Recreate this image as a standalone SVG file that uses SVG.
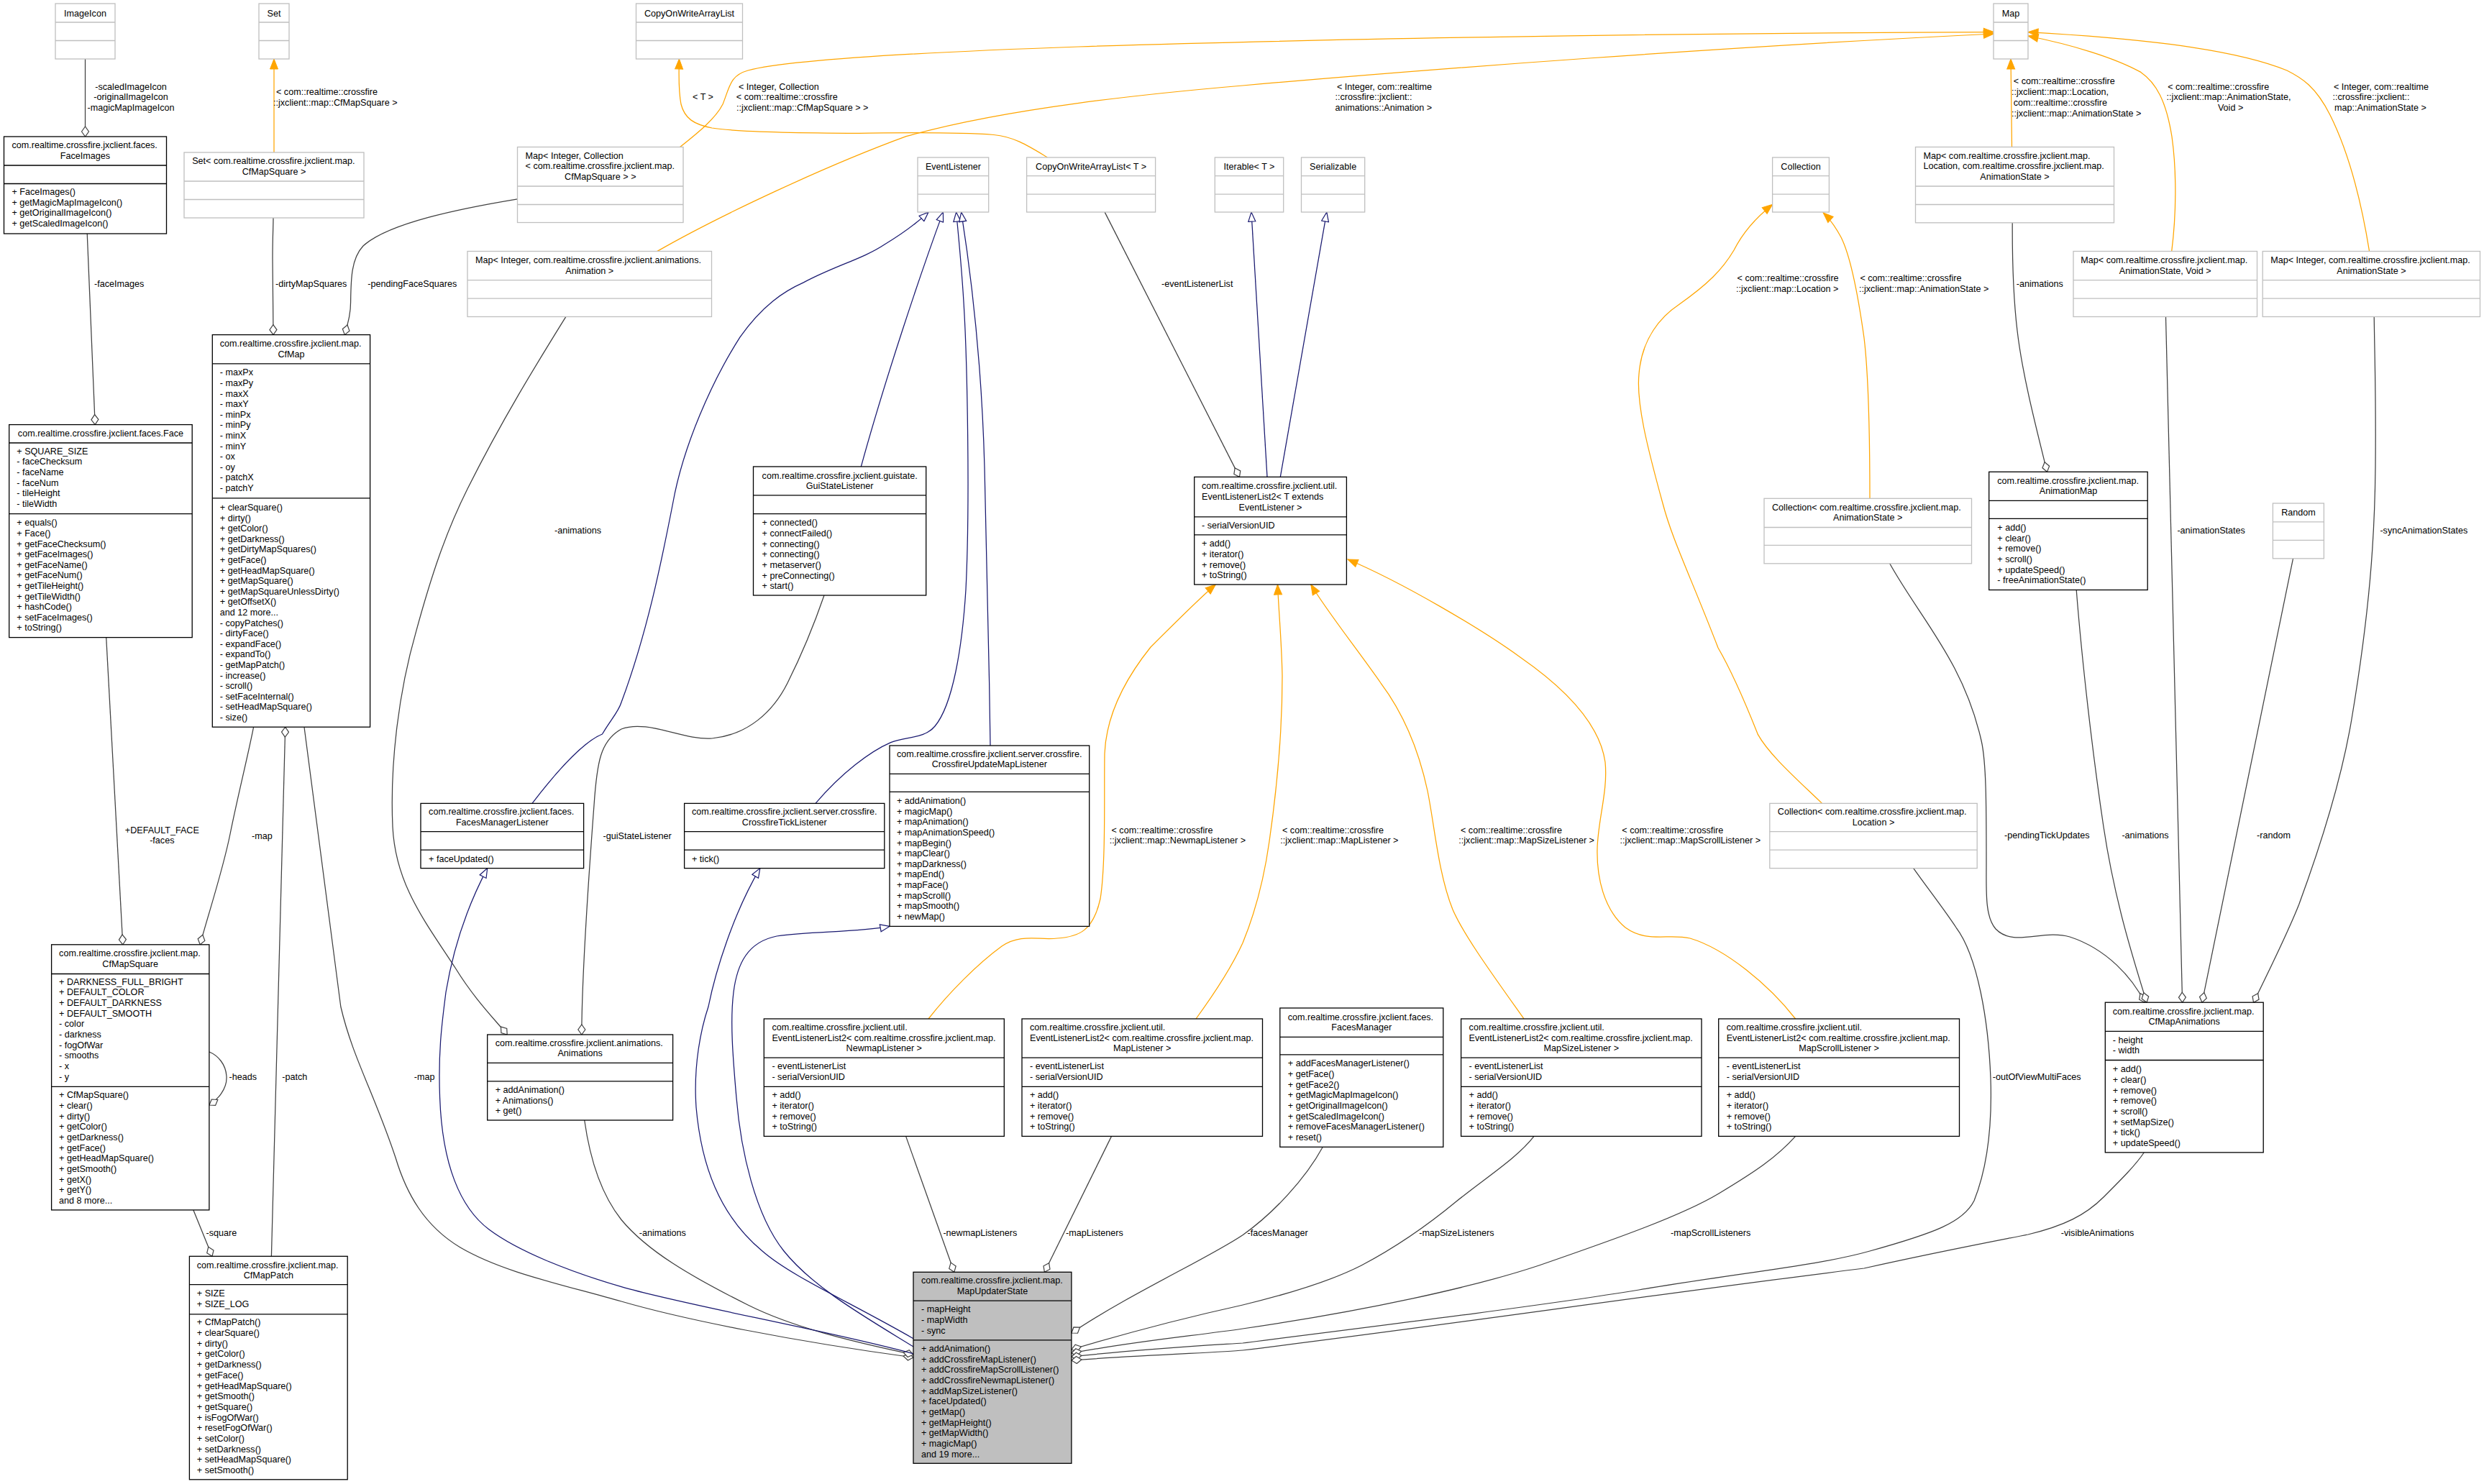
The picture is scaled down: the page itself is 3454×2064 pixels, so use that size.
<svg xmlns="http://www.w3.org/2000/svg" width="3454" height="2064" viewBox="0 0 3454 2064">
<style>
text{font-family:"Liberation Sans",Arial,Helvetica,sans-serif;font-size:12.6px;fill:#000}
.c{text-anchor:middle}
rect,line{stroke-width:1.3}
.ext rect{fill:#fff;stroke:#bfbfbf}
.ext line{stroke:#bfbfbf}
.cls rect{fill:#fff;stroke:#000}
.cls line{stroke:#000}
.cur rect{fill:#bfbfbf;stroke:#000}
.cur line{stroke:#000}
.a{fill:none;stroke:#404040;stroke-width:1.25;marker-start:url(#dia)}
.i{fill:none;stroke:#191970;stroke-width:1.25;marker-end:url(#tri)}
.o{fill:none;stroke:#ffa500;stroke-width:1.25;marker-end:url(#oar)}
</style>
<defs>
<marker id="dia" markerUnits="userSpaceOnUse" viewBox="-1 -6 16 12" markerWidth="16" markerHeight="12" refX="0" refY="0" orient="auto"><path d="M0,0 L7,-5 L14,0 L7,5 Z" fill="#fff" stroke="#404040" stroke-width="1.2"/></marker>
<marker id="tri" markerUnits="userSpaceOnUse" viewBox="-1 -6 15 12" markerWidth="15" markerHeight="12" refX="13" refY="0" orient="auto"><path d="M0,-5 L13,0 L0,5 Z" fill="#fff" stroke="#191970" stroke-width="1.2"/></marker>
<marker id="oar" markerUnits="userSpaceOnUse" viewBox="-1 -7 16 14" markerWidth="16" markerHeight="14" refX="14" refY="0" orient="auto"><path d="M0,-5.5 L14,0 L0,5.5 Z" fill="#ffa500" stroke="#ffa500"/></marker>
</defs>
<rect x="0" y="0" width="3454" height="2064" fill="#fff" stroke="none"/>
<g id="connectors">
<path class="a" d="M118.5,190 L118.5,82"/>
<path class="a" d="M132.2,590.6 L121.2,324.6"/>
<path class="a" d="M380,465.6 C379.5,420 379,380 379,360 C379,330 380,315 380,302.7"/>
<path class="a" d="M479.3,465.6 C485,445 487.6,435 487.6,420 C488,390 488,360 505,342 C540,310 640,290 719.6,276.8"/>
<path class="a" d="M705.2,1439 C690,1420 660,1390 633.6,1347 C590,1280 550,1230 546,1150 C542,1060 555,960 578.5,878.6 C600,800 620,740 650,680 C700,580 750,500 786.8,440.6"/>
<path class="a" d="M808.8,1439 C809,1350 820,1200 826,1120 C830,1060 835,1030 864,1014 C900,1000 950,1030 990,1027 C1040,1022 1075,990 1095,950 C1120,900 1135,860 1146,828"/>
<path class="a" d="M278.2,1313.8 C290,1270 310,1210 320,1160 C330,1110 345,1050 352.6,1011.2"/>
<path class="a" d="M170.8,1313.8 L147.7,886.6"/>
<path class="a" d="M396.7,1011.2 L377.4,1747.3"/>
<path class="a" d="M295,1747.3 L268.9,1683"/>
<path class="a" d="M291,1537 C302,1530 316,1515 315,1497 C314,1480 303,1468 291,1463"/>
<path class="a" d="M1270,1888 C1100,1865 950,1835 864,1810 C780,1786 700,1770 640,1735 C590,1705 565,1660 550,1610 C520,1520 490,1470 473.8,1400 L423,1011.2"/>
<path class="a" d="M1270,1884 C1180,1865 1100,1845 1040,1815 C960,1775 900,1740 864,1696.5 C835,1660 820,1610 812.7,1558"/>
<path class="a" d="M1723.5,663.4 L1536.2,295.1"/>
<path class="a" d="M1326.8,1769.3 L1259.6,1580.4"/>
<path class="a" d="M1452.4,1769.3 L1545.5,1580.4"/>
<path class="a" d="M1489.9,1854 C1570,1800 1680,1750 1728,1717.7 C1770,1688 1815,1640 1839.3,1595.3"/>
<path class="a" d="M1489.9,1877 C1580,1850 1660,1830 1728,1815 C1790,1800 1850,1782 1893,1760 C1950,1730 1990,1700 2025,1671 C2070,1635 2110,1610 2133,1580.4"/>
<path class="a" d="M1489.9,1882 C1580,1865 1660,1858 1728,1848 C1900,1823 2050,1790 2140,1760 C2250,1722 2340,1690 2390,1660 C2440,1630 2470,1610 2496.6,1580.4"/>
<path class="a" d="M1489.9,1887 C1600,1875 1700,1870 1728,1868 C1950,1840 2150,1815 2279,1794 C2420,1770 2530,1760 2600,1740 C2690,1715 2730,1700 2745,1670 C2765,1620 2770,1560 2768,1500 C2765,1420 2750,1330 2720,1290 C2700,1260 2680,1235 2660.7,1207.6"/>
<path class="a" d="M1489.9,1892 C1600,1884 1700,1881 1728,1878 C2000,1845 2300,1800 2592,1764 C2700,1740 2780,1725 2820,1717 C2870,1705 2900,1690 2925,1665 C2950,1640 2970,1620 2981.2,1603"/>
<path class="a" d="M2846.5,656.3 C2830,590 2812,520 2805,460 C2799,410 2798,360 2798.2,309.8"/>
<path class="a" d="M2982.3,1394.2 C2965,1360 2930,1320 2878,1303 C2840,1292 2800,1318 2775,1292 C2760,1275 2762,1240 2762,1200 C2762,1120 2762,1060 2755,1030 C2730,920 2670,860 2627.7,783.8"/>
<path class="a" d="M2985,1394.2 C2965,1330 2940,1250 2925,1150 C2910,1050 2895,920 2887.2,820.5"/>
<path class="a" d="M3034.6,1394.2 C3025,1000 3018,700 3011.5,440.6"/>
<path class="a" d="M3062,1394.2 L3188.5,776.8"/>
<path class="a" d="M3133.5,1394.2 C3160,1340 3180,1300 3196.7,1258 C3240,1140 3260,1060 3270,1000 C3295,850 3302,750 3303,650 C3304,550 3302,500 3301.2,440.6"/>
<path class="i" d="M740,1117.4 C780,1065 815,1030 837.5,1021 C850,1000 860,990 864,976.8 C900,880 920,780 935.6,700 C950,620 990,530 1029,468.8 C1060,425 1090,405 1117.4,392.9 C1160,370 1200,360 1230,340 C1255,325 1275,310 1291,295.1"/>
<path class="i" d="M1197.3,649.1 C1230,530 1280,380 1311.4,295.1"/>
<path class="i" d="M1134,1117.4 C1170,1075 1210,1045 1238.6,1032.6 C1260,1024 1285,1028 1300,1010 C1325,980 1338,900 1343,820 C1349,700 1345,500 1340,420 C1337,370 1333,330 1329.6,295.1"/>
<path class="i" d="M1377,1037 C1375,900 1372,750 1369,650 C1365,500 1350,380 1336.7,295.1"/>
<path class="i" d="M1270,1882.8 C1150,1850 950,1815 864,1789.7 C790,1768 720,1740 680,1710 C640,1680 615,1620 611.6,1527 C609,1460 615,1420 620,1380 C630,1320 650,1260 677.7,1207.6"/>
<path class="i" d="M1270,1861.7 C1180,1810 1100,1775 1060,1740 C1000,1690 975,1620 968,1540 C964,1480 975,1430 985,1400 C995,1350 1020,1270 1056.8,1207.6"/>
<path class="i" d="M1270,1873 C1200,1830 1130,1790 1090,1740 C1050,1690 1030,1600 1024,1527 C1019,1470 1015,1420 1020,1380 C1025,1340 1040,1310 1080,1302 C1130,1295 1190,1297 1237,1288.4"/>
<path class="i" d="M1762,663.4 L1740,295.1"/>
<path class="i" d="M1780.3,663.4 L1844.8,295.1"/>
<path class="o" d="M381,212 L381,82"/>
<path class="o" d="M945.5,204.5 C970,185 995,165 1005,145 C1015,120 1015,105 1040,98 C1100,82 1300,72 1500,65 C1800,55 2300,46 2772.3,44.6"/>
<path class="o" d="M913.6,349.6 C1000,300 1150,230 1260,189.7 C1400,150 1600,130 1728,119 C2000,95 2400,65 2772.3,47"/>
<path class="o" d="M1456.3,218.8 C1430,203 1410,190 1381.9,187.5 C1320,183 1250,185 1194.6,185.3 C1100,185 1020,183 990,178 C965,173 952,165 947,145 C943,125 944,100 944.4,82"/>
<path class="o" d="M2797.5,204.5 L2796,82"/>
<path class="o" d="M3019.7,349.6 C3026,300 3027,240 3020,190 C3012,140 2998,115 2976.8,100.4 C2940,80 2880,62 2820,50"/>
<path class="o" d="M3294.6,349.6 C3285,290 3270,220 3240,160 C3220,120 3200,108 3180,98 C3100,65 2950,52 2820,44.6"/>
<path class="o" d="M2533.5,1117.4 C2500,1085 2460,1050 2444.3,1021.4 C2420,960 2400,920 2389,901 C2350,800 2325,750 2312,700 C2290,620 2275,560 2279,520 C2283,470 2310,440 2334,424 C2375,395 2395,375 2411,348 C2425,320 2445,300 2464.6,284.4"/>
<path class="o" d="M2600,693.3 C2600,600 2598,520 2592,470 C2585,420 2575,360 2560,330 C2552,315 2545,305 2535.2,296"/>
<path class="o" d="M1291,1417 C1320,1380 1360,1340 1393,1316 C1420,1298 1445,1308 1470,1305 C1500,1303 1520,1295 1530,1250 C1538,1200 1535,1100 1536,1048 C1538,1000 1560,950 1600,900 C1640,860 1670,830 1690.4,813"/>
<path class="o" d="M1663,1417 C1690,1380 1715,1340 1728,1311.6 C1745,1270 1758,1220 1765,1170 C1778,1080 1783,1000 1783,940 C1782,890 1778,850 1776.5,813"/>
<path class="o" d="M2119,1417 C2075,1355 2035,1300 2020,1265 C2000,1215 1995,1150 1985,1100 C1972,1040 1950,990 1920,950 C1885,900 1845,850 1822.8,813"/>
<path class="o" d="M2496.6,1417 C2460,1370 2400,1320 2350,1305 C2320,1298 2290,1312 2260,1290 C2230,1265 2220,1220 2221,1180 C2222,1140 2236,1100 2232,1060 C2225,1010 2180,960 2113.7,914 C2060,875 1950,810 1874,778"/>
<text class="c" x="182" y="125">-scaledImageIcon</text>
<text class="c" x="182" y="138.9">-originalImageIcon</text>
<text class="c" x="182" y="154.1">-magicMapImageIcon</text>
<text x="384" y="132.2">&lt; com::realtime::crossfire</text>
<text x="380" y="147.4">::jxclient::map::CfMapSquare &gt;</text>
<text x="131" y="399">-faceImages</text>
<text x="383" y="399">-dirtyMapSquares</text>
<text x="511.3" y="399">-pendingFaceSquares</text>
<text x="1027" y="125">&lt; Integer, Collection</text>
<text x="1023.8" y="138.9">&lt; com::realtime::crossfire</text>
<text x="1024" y="154.1">::jxclient::map::CfMapSquare &gt; &gt;</text>
<text x="963" y="138.9">&lt; T &gt;</text>
<text x="1859" y="125">&lt; Integer, com::realtime</text>
<text x="1856.4" y="138.9">::crossfire::jxclient::</text>
<text x="1856.4" y="154.1">animations::Animation &gt;</text>
<text x="1615" y="399">-eventListenerList</text>
<text x="2415.6" y="391">&lt; com::realtime::crossfire</text>
<text x="2414" y="406.3">::jxclient::map::Location &gt;</text>
<text x="2586.4" y="391">&lt; com::realtime::crossfire</text>
<text x="2585" y="406.3">::jxclient::map::AnimationState &gt;</text>
<text x="2799.8" y="117">&lt; com::realtime::crossfire</text>
<text x="2797" y="132.2">::jxclient::map::Location,</text>
<text x="2799.8" y="147.4">com::realtime::crossfire</text>
<text x="2797" y="161.6">::jxclient::map::AnimationState &gt;</text>
<text x="2803.7" y="399">-animations</text>
<text x="3014.2" y="125">&lt; com::realtime::crossfire</text>
<text x="3012.6" y="138.9">::jxclient::map::AnimationState,</text>
<text class="c" x="3101.6" y="154.1">Void &gt;</text>
<text x="3245" y="125">&lt; Integer, com::realtime</text>
<text x="3243.5" y="138.9">::crossfire::jxclient::</text>
<text x="3246" y="154.1">map::AnimationState &gt;</text>
<text x="771" y="742">-animations</text>
<text x="3027.4" y="742">-animationStates</text>
<text x="3309.4" y="742">-syncAnimationStates</text>
<text class="c" x="225.3" y="1159">+DEFAULT_FACE</text>
<text class="c" x="225.3" y="1173.3">-faces</text>
<text x="350" y="1166.5">-map</text>
<text x="838.6" y="1167">-guiStateListener</text>
<text x="1545.5" y="1159">&lt; com::realtime::crossfire</text>
<text x="1542.8" y="1173.3">::jxclient::map::NewmapListener &gt;</text>
<text x="1783" y="1159">&lt; com::realtime::crossfire</text>
<text x="1780.3" y="1173.3">::jxclient::map::MapListener &gt;</text>
<text x="2031" y="1159">&lt; com::realtime::crossfire</text>
<text x="2028.3" y="1173.3">::jxclient::map::MapSizeListener &gt;</text>
<text x="2255.3" y="1159">&lt; com::realtime::crossfire</text>
<text x="2252.5" y="1173.3">::jxclient::map::MapScrollListener &gt;</text>
<text x="2787" y="1166">-pendingTickUpdates</text>
<text x="2950.4" y="1166">-animations</text>
<text x="3138" y="1166">-random</text>
<text x="318.5" y="1502.3">-heads</text>
<text x="392.3" y="1502.3">-patch</text>
<text x="575.8" y="1502.3">-map</text>
<text x="2770.7" y="1502.3">-outOfViewMultiFaces</text>
<text x="286.5" y="1719">-square</text>
<text x="888.8" y="1719">-animations</text>
<text x="1311.4" y="1719">-newmapListeners</text>
<text x="1482" y="1719">-mapListeners</text>
<text x="1734.6" y="1719">-facesManager</text>
<text x="1973.2" y="1719">-mapSizeListeners</text>
<text x="2323" y="1719">-mapScrollListeners</text>
<text x="2865.8" y="1719">-visibleAnimations</text>
</g>
<g id="ImageIcon" class="ext"><rect x="77" y="5" width="83" height="77"/><line x1="77" y1="31" x2="160" y2="31"/><line x1="77" y1="56.5" x2="160" y2="56.5"/><text class="c" x="118.5" y="22.5">ImageIcon</text></g>
<g id="Set" class="ext"><rect x="360" y="5" width="42" height="77"/><line x1="360" y1="31" x2="402" y2="31"/><line x1="360" y1="56.5" x2="402" y2="56.5"/><text class="c" x="381" y="22.5">Set</text></g>
<g id="CopyOnWriteArrayList" class="ext"><rect x="884.5" y="5" width="148" height="77"/><line x1="884.5" y1="31" x2="1032.5" y2="31"/><line x1="884.5" y1="56.5" x2="1032.5" y2="56.5"/><text class="c" x="958.5" y="22.5">CopyOnWriteArrayList</text></g>
<g id="Map" class="ext"><rect x="2772" y="5" width="48" height="77"/><line x1="2772" y1="31" x2="2820" y2="31"/><line x1="2772" y1="56.5" x2="2820" y2="56.5"/><text class="c" x="2796" y="22.5">Map</text></g>
<g id="EventListener" class="ext"><rect x="1276" y="219" width="98.7" height="76"/><line x1="1276" y1="244.6" x2="1374.7" y2="244.6"/><line x1="1276" y1="270.1" x2="1374.7" y2="270.1"/><text class="c" x="1325.4" y="235.5">EventListener</text></g>
<g id="CopyOnWriteArrayListT" class="ext"><rect x="1427.6" y="219" width="179" height="76"/><line x1="1427.6" y1="244.6" x2="1606.6" y2="244.6"/><line x1="1427.6" y1="270.1" x2="1606.6" y2="270.1"/><text class="c" x="1517.1" y="235.5">CopyOnWriteArrayList&lt; T &gt;</text></g>
<g id="IterableT" class="ext"><rect x="1689.3" y="219" width="95.4" height="76"/><line x1="1689.3" y1="244.6" x2="1784.7" y2="244.6"/><line x1="1689.3" y1="270.1" x2="1784.7" y2="270.1"/><text class="c" x="1737" y="235.5">Iterable&lt; T &gt;</text></g>
<g id="Serializable" class="ext"><rect x="1809.5" y="219" width="88.2" height="76"/><line x1="1809.5" y1="244.6" x2="1897.7" y2="244.6"/><line x1="1809.5" y1="270.1" x2="1897.7" y2="270.1"/><text class="c" x="1853.6" y="235.5">Serializable</text></g>
<g id="Collection" class="ext"><rect x="2464.6" y="219" width="78.8" height="76"/><line x1="2464.6" y1="244.6" x2="2543.4" y2="244.6"/><line x1="2464.6" y1="270.1" x2="2543.4" y2="270.1"/><text class="c" x="2504" y="235.5">Collection</text></g>
<g id="Random" class="ext"><rect x="3160.4" y="700" width="71" height="76.8"/><line x1="3160.4" y1="725.9" x2="3231.4" y2="725.9"/><line x1="3160.4" y1="751.3" x2="3231.4" y2="751.3"/><text class="c" x="3196" y="717">Random</text></g>
<g id="FaceImages" class="cls"><rect x="5.5" y="190" width="226" height="135"/><line x1="5.5" y1="230" x2="231.5" y2="230"/><line x1="5.5" y1="255.5" x2="231.5" y2="255.5"/><text x="16.5" y="206.3">com.realtime.crossfire.jxclient.faces.</text><text class="c" x="118.5" y="221">FaceImages</text><text x="16.5" y="271">+ FaceImages()<tspan x="16.5" dy="14.65">+ getMagicMapImageIcon()</tspan><tspan x="16.5" dy="14.65">+ getOriginalImageIcon()</tspan><tspan x="16.5" dy="14.65">+ getScaledImageIcon()</tspan></text></g>
<g id="SetCfMapSquare" class="ext"><rect x="256" y="212" width="250" height="91"/><line x1="256" y1="252" x2="506" y2="252"/><line x1="256" y1="277.5" x2="506" y2="277.5"/><text x="267.2" y="227.7">Set&lt; com.realtime.crossfire.jxclient.map.</text><text class="c" x="381" y="242.9">CfMapSquare &gt;</text></g>
<g id="MapIntegerCollection" class="ext"><rect x="719.5" y="204.5" width="230.5" height="105"/><line x1="719.5" y1="259" x2="950" y2="259"/><line x1="719.5" y1="284.5" x2="950" y2="284.5"/><text x="730.6" y="221">Map&lt; Integer, Collection</text><text x="730.6" y="235.3">&lt; com.realtime.crossfire.jxclient.map.</text><text class="c" x="834.8" y="249.5">CfMapSquare &gt; &gt;</text></g>
<g id="MapIntegerAnimation" class="ext"><rect x="650" y="349.5" width="339.5" height="91"/><line x1="650" y1="389.7" x2="989.5" y2="389.7"/><line x1="650" y1="415.2" x2="989.5" y2="415.2"/><text x="661" y="366">Map&lt; Integer, com.realtime.crossfire.jxclient.animations.</text><text class="c" x="819.8" y="380.8">Animation &gt;</text></g>
<g id="CfMap" class="cls"><rect x="295.3" y="465.6" width="219.3" height="545.6"/><line x1="295.3" y1="505.8" x2="514.6" y2="505.8"/><line x1="295.3" y1="692.9" x2="514.6" y2="692.9"/><text x="305.8" y="482.2">com.realtime.crossfire.jxclient.map.</text><text class="c" x="405" y="496.9">CfMap</text>
<text x="305.8" y="522.4">- maxPx<tspan x="305.8" dy="14.6">- maxPy</tspan><tspan x="305.8" dy="14.6">- maxX</tspan><tspan x="305.8" dy="14.6">- maxY</tspan><tspan x="305.8" dy="14.6">- minPx</tspan><tspan x="305.8" dy="14.6">- minPy</tspan><tspan x="305.8" dy="14.6">- minX</tspan><tspan x="305.8" dy="14.6">- minY</tspan><tspan x="305.8" dy="14.6">- ox</tspan><tspan x="305.8" dy="14.6">- oy</tspan><tspan x="305.8" dy="14.6">- patchX</tspan><tspan x="305.8" dy="14.6">- patchY</tspan></text>
<text x="305.8" y="709.9">+ clearSquare()<tspan x="305.8" dy="14.6">+ dirty()</tspan><tspan x="305.8" dy="14.6">+ getColor()</tspan><tspan x="305.8" dy="14.6">+ getDarkness()</tspan><tspan x="305.8" dy="14.6">+ getDirtyMapSquares()</tspan><tspan x="305.8" dy="14.6">+ getFace()</tspan><tspan x="305.8" dy="14.6">+ getHeadMapSquare()</tspan><tspan x="305.8" dy="14.6">+ getMapSquare()</tspan><tspan x="305.8" dy="14.6">+ getMapSquareUnlessDirty()</tspan><tspan x="305.8" dy="14.6">+ getOffsetX()</tspan><tspan x="305.8" dy="14.6">and 12 more...</tspan><tspan x="305.8" dy="14.6">- copyPatches()</tspan><tspan x="305.8" dy="14.6">- dirtyFace()</tspan><tspan x="305.8" dy="14.6">- expandFace()</tspan><tspan x="305.8" dy="14.6">- expandTo()</tspan><tspan x="305.8" dy="14.6">- getMapPatch()</tspan><tspan x="305.8" dy="14.6">- increase()</tspan><tspan x="305.8" dy="14.6">- scroll()</tspan><tspan x="305.8" dy="14.6">- setFaceInternal()</tspan><tspan x="305.8" dy="14.6">- setHeadMapSquare()</tspan><tspan x="305.8" dy="14.6">- size()</tspan></text></g>
<g id="Face" class="cls"><rect x="12.7" y="590.6" width="254.5" height="296"/><line x1="12.7" y1="616" x2="267.2" y2="616"/><line x1="12.7" y1="714.7" x2="267.2" y2="714.7"/><text class="c" x="140" y="607.2">com.realtime.crossfire.jxclient.faces.Face</text>
<text x="23.3" y="631.7">+ SQUARE_SIZE<tspan x="23.3" dy="14.6">- faceChecksum</tspan><tspan x="23.3" dy="14.6">- faceName</tspan><tspan x="23.3" dy="14.6">- faceNum</tspan><tspan x="23.3" dy="14.6">- tileHeight</tspan><tspan x="23.3" dy="14.6">- tileWidth</tspan></text>
<text x="23.3" y="731.3">+ equals()<tspan x="23.3" dy="14.6">+ Face()</tspan><tspan x="23.3" dy="14.6">+ getFaceChecksum()</tspan><tspan x="23.3" dy="14.6">+ getFaceImages()</tspan><tspan x="23.3" dy="14.6">+ getFaceName()</tspan><tspan x="23.3" dy="14.6">+ getFaceNum()</tspan><tspan x="23.3" dy="14.6">+ getTileHeight()</tspan><tspan x="23.3" dy="14.6">+ getTileWidth()</tspan><tspan x="23.3" dy="14.6">+ hashCode()</tspan><tspan x="23.3" dy="14.6">+ setFaceImages()</tspan><tspan x="23.3" dy="14.6">+ toString()</tspan></text></g>
<g id="GuiStateListener" class="cls"><rect x="1047.5" y="649" width="240.2" height="179"/><line x1="1047.5" y1="688.8" x2="1287.7" y2="688.8"/><line x1="1047.5" y1="714.7" x2="1287.7" y2="714.7"/><text x="1059.6" y="665.7">com.realtime.crossfire.jxclient.guistate.</text><text class="c" x="1167.6" y="680">GuiStateListener</text>
<text x="1059.6" y="731.3">+ connected()<tspan x="1059.6" dy="14.65">+ connectFailed()</tspan><tspan x="1059.6" dy="14.65">+ connecting()</tspan><tspan x="1059.6" dy="14.65">+ connecting()</tspan><tspan x="1059.6" dy="14.65">+ metaserver()</tspan><tspan x="1059.6" dy="14.65">+ preConnecting()</tspan><tspan x="1059.6" dy="14.65">+ start()</tspan></text></g>
<g id="EventListenerList2T" class="cls"><rect x="1660.7" y="663.4" width="211.7" height="149.6"/><line x1="1660.7" y1="718.8" x2="1872.4" y2="718.8"/><line x1="1660.7" y1="743.8" x2="1872.4" y2="743.8"/><text x="1671" y="680">com.realtime.crossfire.jxclient.util.</text><text x="1671" y="695">EventListenerList2&lt; T extends</text><text class="c" x="1766.5" y="709.9">EventListener &gt;</text><text x="1671" y="735">- serialVersionUID</text>
<text x="1671" y="760.3">+ add()<tspan x="1671" dy="14.65">+ iterator()</tspan><tspan x="1671" dy="14.65">+ remove()</tspan><tspan x="1671" dy="14.65">+ toString()</tspan></text></g>
<g id="MapLocationAnimationState" class="ext"><rect x="2663.5" y="204.5" width="276" height="105.3"/><line x1="2663.5" y1="259" x2="2939.5" y2="259"/><line x1="2663.5" y1="284.5" x2="2939.5" y2="284.5"/><text x="2674.5" y="221">Map&lt; com.realtime.crossfire.jxclient.map.</text><text x="2674.5" y="235.3">Location, com.realtime.crossfire.jxclient.map.</text><text class="c" x="2801.5" y="249.5">AnimationState &gt;</text></g>
<g id="MapAnimationStateVoid" class="ext"><rect x="2883" y="349.5" width="255.5" height="91"/><line x1="2883" y1="389.7" x2="3138.5" y2="389.7"/><line x1="2883" y1="415.2" x2="3138.5" y2="415.2"/><text x="2893.3" y="366">Map&lt; com.realtime.crossfire.jxclient.map.</text><text class="c" x="3010.7" y="380.8">AnimationState, Void &gt;</text></g>
<g id="MapIntegerAnimationState" class="ext"><rect x="3146.2" y="349.5" width="302.3" height="91"/><line x1="3146.2" y1="389.7" x2="3448.5" y2="389.7"/><line x1="3146.2" y1="415.2" x2="3448.5" y2="415.2"/><text x="3157.2" y="366">Map&lt; Integer, com.realtime.crossfire.jxclient.map.</text><text class="c" x="3297.4" y="380.8">AnimationState &gt;</text></g>
<g id="AnimationMap" class="cls"><rect x="2765.7" y="656.3" width="220.5" height="164.2"/><line x1="2765.7" y1="696.4" x2="2986.2" y2="696.4"/><line x1="2765.7" y1="721.4" x2="2986.2" y2="721.4"/><text x="2777.3" y="672.8">com.realtime.crossfire.jxclient.map.</text><text class="c" x="2876" y="687.1">AnimationMap</text>
<text x="2777.3" y="738">+ add()<tspan x="2777.3" dy="14.65">+ clear()</tspan><tspan x="2777.3" dy="14.65">+ remove()</tspan><tspan x="2777.3" dy="14.65">+ scroll()</tspan><tspan x="2777.3" dy="14.65">+ updateSpeed()</tspan><tspan x="2777.3" dy="14.65">- freeAnimationState()</tspan></text></g>
<g id="CollectionAnimationState" class="ext"><rect x="2453" y="693.3" width="288.5" height="90.5"/><line x1="2453" y1="733.5" x2="2741.5" y2="733.5"/><line x1="2453" y1="758.3" x2="2741.5" y2="758.3"/><text x="2464" y="709.9">Collection&lt; com.realtime.crossfire.jxclient.map.</text><text class="c" x="2597.2" y="724.1">AnimationState &gt;</text></g>
<g id="FacesManagerListener" class="cls"><rect x="585" y="1117.4" width="226.6" height="90.2"/><line x1="585" y1="1156.7" x2="811.6" y2="1156.7"/><line x1="585" y1="1182.1" x2="811.6" y2="1182.1"/><text x="596.1" y="1133.1">com.realtime.crossfire.jxclient.faces.</text><text class="c" x="698.3" y="1147.8">FacesManagerListener</text><text x="596.1" y="1198.7">+ faceUpdated()</text></g>
<g id="CrossfireTickListener" class="cls"><rect x="951.6" y="1117.4" width="278.2" height="90.2"/><line x1="951.6" y1="1156.7" x2="1229.8" y2="1156.7"/><line x1="951.6" y1="1182.1" x2="1229.8" y2="1182.1"/><text x="962" y="1133.1">com.realtime.crossfire.jxclient.server.crossfire.</text><text class="c" x="1090.7" y="1147.8">CrossfireTickListener</text><text x="962" y="1198.7">+ tick()</text></g>
<g id="CrossfireUpdateMapListener" class="cls"><rect x="1237" y="1037" width="277.7" height="251.4"/><line x1="1237" y1="1076.3" x2="1514.7" y2="1076.3"/><line x1="1237" y1="1101.3" x2="1514.7" y2="1101.3"/><text x="1247" y="1052.7">com.realtime.crossfire.jxclient.server.crossfire.</text><text class="c" x="1375.8" y="1067">CrossfireUpdateMapListener</text>
<text x="1247" y="1117.9">+ addAnimation()<tspan x="1247" dy="14.65">+ magicMap()</tspan><tspan x="1247" dy="14.65">+ mapAnimation()</tspan><tspan x="1247" dy="14.65">+ mapAnimationSpeed()</tspan><tspan x="1247" dy="14.65">+ mapBegin()</tspan><tspan x="1247" dy="14.65">+ mapClear()</tspan><tspan x="1247" dy="14.65">+ mapDarkness()</tspan><tspan x="1247" dy="14.65">+ mapEnd()</tspan><tspan x="1247" dy="14.65">+ mapFace()</tspan><tspan x="1247" dy="14.65">+ mapScroll()</tspan><tspan x="1247" dy="14.65">+ mapSmooth()</tspan><tspan x="1247" dy="14.65">+ newMap()</tspan></text></g>
<g id="CollectionLocation" class="ext"><rect x="2460.8" y="1117.4" width="288.4" height="90.2"/><line x1="2460.8" y1="1156.7" x2="2749.2" y2="1156.7"/><line x1="2460.8" y1="1182.1" x2="2749.2" y2="1182.1"/><text x="2471.8" y="1133.1">Collection&lt; com.realtime.crossfire.jxclient.map.</text><text class="c" x="2605" y="1147.8">Location &gt;</text></g>
<g id="Animations" class="cls"><rect x="677.7" y="1439" width="257.9" height="119"/><line x1="677.7" y1="1478.4" x2="935.6" y2="1478.4"/><line x1="677.7" y1="1503.8" x2="935.6" y2="1503.8"/><text x="688.7" y="1455.3">com.realtime.crossfire.jxclient.animations.</text><text class="c" x="806.6" y="1469">Animations</text>
<text x="688.7" y="1520.1">+ addAnimation()<tspan x="688.7" dy="14.65">+ Animations()</tspan><tspan x="688.7" dy="14.65">+ get()</tspan></text></g>
<g id="EventListenerList2Newmap" class="cls"><rect x="1062.3" y="1417" width="334" height="163.4"/><line x1="1062.3" y1="1471.2" x2="1396.3" y2="1471.2"/><line x1="1062.3" y1="1511.4" x2="1396.3" y2="1511.4"/><text x="1073.4" y="1433.3">com.realtime.crossfire.jxclient.util.</text><text x="1073.4" y="1447.5">EventListenerList2&lt; com.realtime.crossfire.jxclient.map.</text><text class="c" x="1229.3" y="1461.7">NewmapListener &gt;</text>
<text x="1073.4" y="1487.1">- eventListenerList<tspan x="1073.4" dy="14.8">- serialVersionUID</tspan></text>
<text x="1073.4" y="1527.3">+ add()<tspan x="1073.4" dy="14.65">+ iterator()</tspan><tspan x="1073.4" dy="14.65">+ remove()</tspan><tspan x="1073.4" dy="14.65">+ toString()</tspan></text></g>
<g id="EventListenerList2Map" class="cls"><rect x="1421" y="1417" width="334.5" height="163.4"/><line x1="1421" y1="1471.2" x2="1755.5" y2="1471.2"/><line x1="1421" y1="1511.4" x2="1755.5" y2="1511.4"/><text x="1432" y="1433.3">com.realtime.crossfire.jxclient.util.</text><text x="1432" y="1447.5">EventListenerList2&lt; com.realtime.crossfire.jxclient.map.</text><text class="c" x="1588.2" y="1461.7">MapListener &gt;</text>
<text x="1432" y="1487.1">- eventListenerList<tspan x="1432" dy="14.8">- serialVersionUID</tspan></text>
<text x="1432" y="1527.3">+ add()<tspan x="1432" dy="14.65">+ iterator()</tspan><tspan x="1432" dy="14.65">+ remove()</tspan><tspan x="1432" dy="14.65">+ toString()</tspan></text></g>
<g id="FacesManager" class="cls"><rect x="1779.8" y="1402" width="227" height="193.3"/><line x1="1779.8" y1="1442.4" x2="2006.8" y2="1442.4"/><line x1="1779.8" y1="1466.9" x2="2006.8" y2="1466.9"/><text x="1790.8" y="1418.5">com.realtime.crossfire.jxclient.faces.</text><text class="c" x="1893.3" y="1432.9">FacesManager</text>
<text x="1790.8" y="1483.3">+ addFacesManagerListener()<tspan x="1790.8" dy="14.65">+ getFace()</tspan><tspan x="1790.8" dy="14.65">+ getFace2()</tspan><tspan x="1790.8" dy="14.65">+ getMagicMapImageIcon()</tspan><tspan x="1790.8" dy="14.65">+ getOriginalImageIcon()</tspan><tspan x="1790.8" dy="14.65">+ getScaledImageIcon()</tspan><tspan x="1790.8" dy="14.65">+ removeFacesManagerListener()</tspan><tspan x="1790.8" dy="14.65">+ reset()</tspan></text></g>
<g id="EventListenerList2MapSize" class="cls"><rect x="2031.6" y="1417" width="334.4" height="163.4"/><line x1="2031.6" y1="1471.2" x2="2366" y2="1471.2"/><line x1="2031.6" y1="1511.4" x2="2366" y2="1511.4"/><text x="2042.6" y="1433.3">com.realtime.crossfire.jxclient.util.</text><text x="2042.6" y="1447.5">EventListenerList2&lt; com.realtime.crossfire.jxclient.map.</text><text class="c" x="2198.8" y="1461.7">MapSizeListener &gt;</text>
<text x="2042.6" y="1487.1">- eventListenerList<tspan x="2042.6" dy="14.8">- serialVersionUID</tspan></text>
<text x="2042.6" y="1527.3">+ add()<tspan x="2042.6" dy="14.65">+ iterator()</tspan><tspan x="2042.6" dy="14.65">+ remove()</tspan><tspan x="2042.6" dy="14.65">+ toString()</tspan></text></g>
<g id="EventListenerList2MapScroll" class="cls"><rect x="2389.7" y="1417" width="334.8" height="163.4"/><line x1="2389.7" y1="1471.2" x2="2724.5" y2="1471.2"/><line x1="2389.7" y1="1511.4" x2="2724.5" y2="1511.4"/><text x="2400.7" y="1433.3">com.realtime.crossfire.jxclient.util.</text><text x="2400.7" y="1447.5">EventListenerList2&lt; com.realtime.crossfire.jxclient.map.</text><text class="c" x="2557.1" y="1461.7">MapScrollListener &gt;</text>
<text x="2400.7" y="1487.1">- eventListenerList<tspan x="2400.7" dy="14.8">- serialVersionUID</tspan></text>
<text x="2400.7" y="1527.3">+ add()<tspan x="2400.7" dy="14.65">+ iterator()</tspan><tspan x="2400.7" dy="14.65">+ remove()</tspan><tspan x="2400.7" dy="14.65">+ toString()</tspan></text></g>
<g id="CfMapSquare" class="cls"><rect x="71.6" y="1313.8" width="219.3" height="369.1"/><line x1="71.6" y1="1354.5" x2="290.9" y2="1354.5"/><line x1="71.6" y1="1511.4" x2="290.9" y2="1511.4"/><text x="82.1" y="1330.4">com.realtime.crossfire.jxclient.map.</text><text class="c" x="181.2" y="1345.1">CfMapSquare</text>
<text x="82.1" y="1369.7">+ DARKNESS_FULL_BRIGHT<tspan x="82.1" dy="14.65">+ DEFAULT_COLOR</tspan><tspan x="82.1" dy="14.65">+ DEFAULT_DARKNESS</tspan><tspan x="82.1" dy="14.65">+ DEFAULT_SMOOTH</tspan><tspan x="82.1" dy="14.65">- color</tspan><tspan x="82.1" dy="14.65">- darkness</tspan><tspan x="82.1" dy="14.65">- fogOfWar</tspan><tspan x="82.1" dy="14.65">- smooths</tspan><tspan x="82.1" dy="14.65">- x</tspan><tspan x="82.1" dy="14.65">- y</tspan></text>
<text x="82.1" y="1527.3">+ CfMapSquare()<tspan x="82.1" dy="14.65">+ clear()</tspan><tspan x="82.1" dy="14.65">+ dirty()</tspan><tspan x="82.1" dy="14.65">+ getColor()</tspan><tspan x="82.1" dy="14.65">+ getDarkness()</tspan><tspan x="82.1" dy="14.65">+ getFace()</tspan><tspan x="82.1" dy="14.65">+ getHeadMapSquare()</tspan><tspan x="82.1" dy="14.65">+ getSmooth()</tspan><tspan x="82.1" dy="14.65">+ getX()</tspan><tspan x="82.1" dy="14.65">+ getY()</tspan><tspan x="82.1" dy="14.65">and 8 more...</tspan></text></g>
<g id="CfMapPatch" class="cls"><rect x="263.4" y="1747.3" width="219.8" height="310.5"/><line x1="263.4" y1="1786.7" x2="483.2" y2="1786.7"/><line x1="263.4" y1="1827.8" x2="483.2" y2="1827.8"/><text x="273.8" y="1763.7">com.realtime.crossfire.jxclient.map.</text><text class="c" x="373.3" y="1778.1">CfMapPatch</text>
<text x="273.8" y="1803.1">+ SIZE<tspan x="273.8" dy="14.8">+ SIZE_LOG</tspan></text>
<text x="273.8" y="1843.3">+ CfMapPatch()<tspan x="273.8" dy="14.7">+ clearSquare()</tspan><tspan x="273.8" dy="14.7">+ dirty()</tspan><tspan x="273.8" dy="14.7">+ getColor()</tspan><tspan x="273.8" dy="14.7">+ getDarkness()</tspan><tspan x="273.8" dy="14.7">+ getFace()</tspan><tspan x="273.8" dy="14.7">+ getHeadMapSquare()</tspan><tspan x="273.8" dy="14.7">+ getSmooth()</tspan><tspan x="273.8" dy="14.7">+ getSquare()</tspan><tspan x="273.8" dy="14.7">+ isFogOfWar()</tspan><tspan x="273.8" dy="14.7">+ resetFogOfWar()</tspan><tspan x="273.8" dy="14.7">+ setColor()</tspan><tspan x="273.8" dy="14.7">+ setDarkness()</tspan><tspan x="273.8" dy="14.7">+ setHeadMapSquare()</tspan><tspan x="273.8" dy="14.7">+ setSmooth()</tspan></text></g>
<g id="CfMapAnimations" class="cls"><rect x="2927.3" y="1394.2" width="219.9" height="208.7"/><line x1="2927.3" y1="1434.3" x2="3147.2" y2="1434.3"/><line x1="2927.3" y1="1474.5" x2="3147.2" y2="1474.5"/><text x="2937.8" y="1411.3">com.realtime.crossfire.jxclient.map.</text><text class="c" x="3037.2" y="1425.3">CfMapAnimations</text>
<text x="2937.8" y="1451.1">- height<tspan x="2937.8" dy="14">- width</tspan></text>
<text x="2937.8" y="1491.3">+ add()<tspan x="2937.8" dy="14.65">+ clear()</tspan><tspan x="2937.8" dy="14.65">+ remove()</tspan><tspan x="2937.8" dy="14.65">+ remove()</tspan><tspan x="2937.8" dy="14.65">+ scroll()</tspan><tspan x="2937.8" dy="14.65">+ setMapSize()</tspan><tspan x="2937.8" dy="14.65">+ tick()</tspan><tspan x="2937.8" dy="14.65">+ updateSpeed()</tspan></text></g>
<g id="MapUpdaterState" class="cur"><rect x="1270" y="1769.3" width="219.9" height="266"/><line x1="1270" y1="1809.1" x2="1489.9" y2="1809.1"/><line x1="1270" y1="1863.8" x2="1489.9" y2="1863.8"/><text x="1281" y="1785.3">com.realtime.crossfire.jxclient.map.</text><text class="c" x="1380" y="1800.1">MapUpdaterState</text>
<text x="1281" y="1825.1">- mapHeight<tspan x="1281" dy="14.9">- mapWidth</tspan><tspan x="1281" dy="14.9">- sync</tspan></text>
<text x="1281" y="1880.1">+ addAnimation()<tspan x="1281" dy="14.65">+ addCrossfireMapListener()</tspan><tspan x="1281" dy="14.65">+ addCrossfireMapScrollListener()</tspan><tspan x="1281" dy="14.65">+ addCrossfireNewmapListener()</tspan><tspan x="1281" dy="14.65">+ addMapSizeListener()</tspan><tspan x="1281" dy="14.65">+ faceUpdated()</tspan><tspan x="1281" dy="14.65">+ getMap()</tspan><tspan x="1281" dy="14.65">+ getMapHeight()</tspan><tspan x="1281" dy="14.65">+ getMapWidth()</tspan><tspan x="1281" dy="14.65">+ magicMap()</tspan><tspan x="1281" dy="14.65">and 19 more...</tspan></text></g>
</svg>
